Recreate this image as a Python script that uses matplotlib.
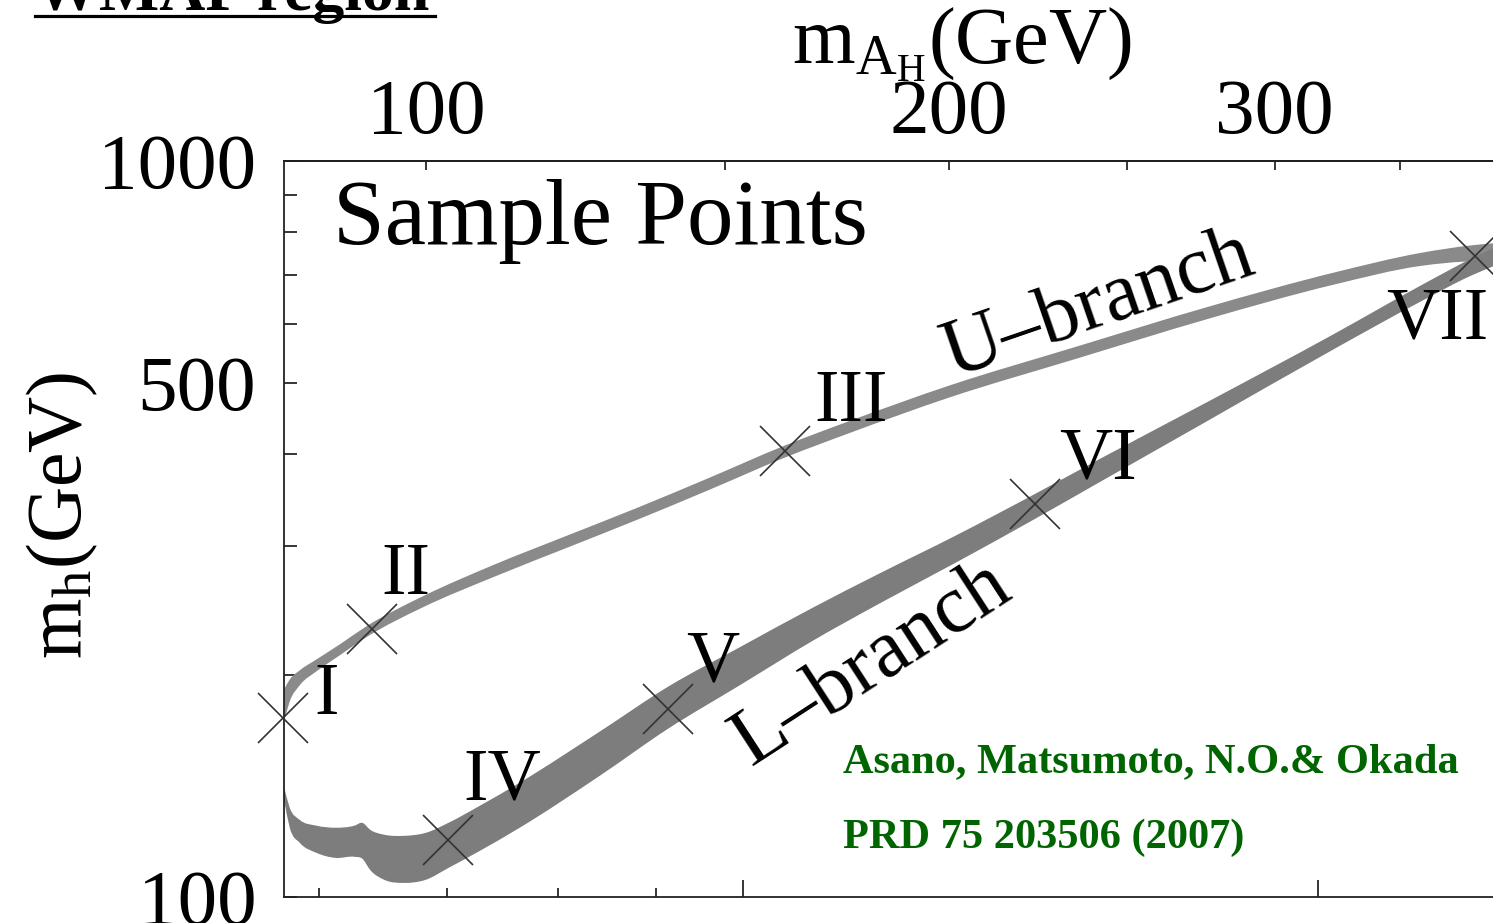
import numpy as np
import matplotlib.pyplot as plt
from matplotlib.lines import Line2D
from matplotlib.patches import PathPatch
from matplotlib.path import Path
from matplotlib.ticker import FixedLocator, NullFormatter, NullLocator

plt.rcParams['font.family'] = ['Liberation Serif', 'DejaVu Serif']
plt.rcParams['mathtext.fontset'] = 'custom'
plt.rcParams['mathtext.rm'] = 'Liberation Serif'

# U-branch band: f (GeV) against upper / lower edge of m_h (GeV)
u_f = [575, 579, 586, 598, 615, 635, 680, 740, 808, 880, 960, 1051, 1138,
       1282, 1496, 1748, 2042, 2265, 2408, 2470]
u_hi = [191.4, 197.5, 203.2, 210.3, 220.4, 233.2, 256.3, 282.5, 309.4, 337.8,
        371.1, 410.3, 443.7, 495.2, 559.8, 632.6, 706.0, 750.3, 768.2, 773.0]
u_lo = [173.1, 184.4, 193.9, 202.6, 213.0, 225.4, 247.6, 272.0, 297.9, 325.4,
        357.4, 395.1, 427.3, 477.0, 539.1, 609.2, 679.9, 720.3, 730.6, 730.6]

# L-branch band
l_f = [575, 579, 586, 598, 612, 626, 632, 638, 649, 665, 682, 701, 728, 764,
       842, 914, 996, 1089, 1180, 1294, 1422, 1538, 1748, 2042, 2265, 2408, 2470]
l_hi = [141.2, 132.2, 127.3, 125.0, 124.2, 125.0, 126.1, 123.4, 121.5, 121.1,
        122.2, 126.1, 133.0, 143.0, 168.0, 193.2, 218.4, 247.6, 275.5, 310.3,
        352.9, 393.9, 469.6, 583.2, 677.8, 737.4, 761.0]
l_lo = [135.6, 124.2, 118.5, 114.8, 113.0, 113.4, 112.7, 108.8, 105.5, 104.5,
        105.5, 109.5, 115.5, 124.2, 146.3, 169.4, 193.9, 223.3, 250.8, 285.1,
        326.4, 366.4, 442.4, 556.3, 644.7, 699.4, 719.1]

# sample points I..VII
pt_names = ['I', 'II', 'III', 'IV', 'V', 'VI', 'VII']
pt_f = [574, 639, 1052, 701, 914, 1422, 2416]
pt_mh = [175, 231, 404, 119.6, 179.8, 342, 742]
lab_f = [605, 666, 1139, 748, 964, 1534, 2309]
lab_mh = [187.4, 272.9, 468, 143.5, 207.7, 391.4, 607.3]

# heavy photon mass from f (littlest Higgs with T-parity)
g_prime = 0.357
v_ew = 243.0


def f_to_mah(f):
    f = np.asarray(f, dtype=float)
    return g_prime * np.sqrt(np.clip(f**2 / 5 - v_ew**2 / 4, 1e-6, None))


def mah_to_f(m):
    m = np.asarray(m, dtype=float)
    return np.sqrt(5 * (m / g_prime)**2 + 5 * v_ew**2 / 4)


def edge_beziers(xs, ys):
    # cubic Hermite pieces through the edge points, built in log-log space
    lx = np.log10(xs)
    ly = np.log10(ys)
    slope = np.gradient(ly, lx)
    segs = []
    for i in range(len(lx) - 1):
        h = lx[i + 1] - lx[i]
        c1 = (lx[i] + h / 3, ly[i] + slope[i] * h / 3)
        c2 = (lx[i + 1] - h / 3, ly[i + 1] - slope[i + 1] * h / 3)
        segs.append(((lx[i], ly[i]), c1, c2, (lx[i + 1], ly[i + 1])))
    return segs


def band_path(xs, lo, hi):
    upper = edge_beziers(xs, hi)
    lower = edge_beziers(xs, lo)
    verts = [upper[0][0]]
    codes = [Path.MOVETO]
    for p0, c1, c2, p1 in upper:
        verts += [c1, c2, p1]
        codes += [Path.CURVE4] * 3
    verts.append(lower[-1][3])
    codes.append(Path.LINETO)
    for p0, c1, c2, p1 in reversed(lower):
        verts += [c2, c1, p0]
        codes += [Path.CURVE4] * 3
    verts.append(verts[0])
    codes.append(Path.CLOSEPOLY)
    return Path(10 ** np.array(verts), codes)


W, H = 1493, 923
fig = plt.figure(figsize=(W / 100, H / 100), dpi=100)


def px(x, y):
    return x / W, 1 - y / H


ax = fig.add_axes([284 / W, 1 - 897 / H, (1503 - 284) / W, (897 - 161) / H])
ax.set_xscale('log')
ax.set_yscale('log')
ax.set_xlim(575, 2500)
ax.set_ylim(100, 1000)

ax.add_patch(PathPatch(band_path(u_f, u_lo, u_hi), facecolor='#8a8a8a',
                       lw=0, zorder=2))
ax.add_patch(PathPatch(band_path(l_f, l_lo, l_hi), facecolor='#7d7d7d',
                       lw=0, zorder=2))
ax.plot(pt_f, pt_mh, ls='none', marker='x', ms=36, mew=1.2, color='#333333',
        zorder=4, clip_on=False)
for name, xf, ym in zip(pt_names, lab_f, lab_mh):
    ax.text(xf, ym, name, fontsize=53, ha='center', va='center', zorder=5)

ax.text(1534, 636.5, 'U\u2013branch', fontsize=59, rotation=19,
        rotation_mode='anchor', ha='center', va='center')
ax.text(1168, 207, 'L\u2013branch', fontsize=59, rotation=33,
        rotation_mode='anchor', ha='center', va='center')

# ticks
ax.set_yticks([100, 500, 1000])
ax.set_yticklabels(['100', '500', '1000'])
ax.yaxis.set_minor_locator(FixedLocator([200, 300, 400, 600, 700, 800, 900]))
ax.yaxis.set_minor_formatter(NullFormatter())
ax.tick_params(axis='y', which='both', direction='in', length=9, width=1.1,
               labelsize=57, pad=20)

ax.set_xticks([1000, 2000])
ax.xaxis.set_minor_locator(FixedLocator([600, 700, 800, 900]))
ax.xaxis.set_minor_formatter(NullFormatter())
ax.tick_params(axis='x', which='major', direction='in', length=12, width=1.1,
               labelbottom=False)
ax.tick_params(axis='x', which='minor', direction='in', length=6.5, width=1.1)

for sp in ax.spines.values():
    sp.set_linewidth(1.3)
    sp.set_color('#222222')

top = ax.secondary_xaxis('top', functions=(f_to_mah, mah_to_f))
top.set_xticks([100, 150, 200, 250, 300, 350])
top.set_xticklabels(['100', '', '200', '', '300', ''])
top.xaxis.set_minor_locator(NullLocator())
top.tick_params(direction='in', length=6.5, width=1.1, labelsize=57, pad=8)
top.spines['top'].set_linewidth(1.3)

fig.text(*px(962, 45), '$\\mathregular{m_{A_H}}$(GeV)', fontsize=58,
         ha='center', va='center')
fig.text(*px(62, 515), '$\\mathregular{m_h}$(GeV)', fontsize=56,
         rotation=90, ha='center', va='center')
fig.text(*px(333, 222), 'Sample Points', fontsize=67, ha='left', va='center')

fig.text(*px(843, 762), 'Asano, Matsumoto, N.O.& Okada', fontsize=30.5,
         fontweight='bold', color='#006400', ha='left', va='center')
fig.text(*px(843, 838), 'PRD 75 203506 (2007)', fontsize=30.5,
         fontweight='bold', color='#006400', ha='left', va='center')

# page heading, mostly above the top edge
fig.text(*px(35, 10), 'WMAP region', fontsize=46, fontweight='bold',
         ha='left', va='baseline')
fig.add_artist(Line2D([35 / W, 435 / W], [1 - 16 / H, 1 - 16 / H],
                      color='black', lw=2.3, transform=fig.transFigure))

fig.savefig('out.png', dpi=100)
